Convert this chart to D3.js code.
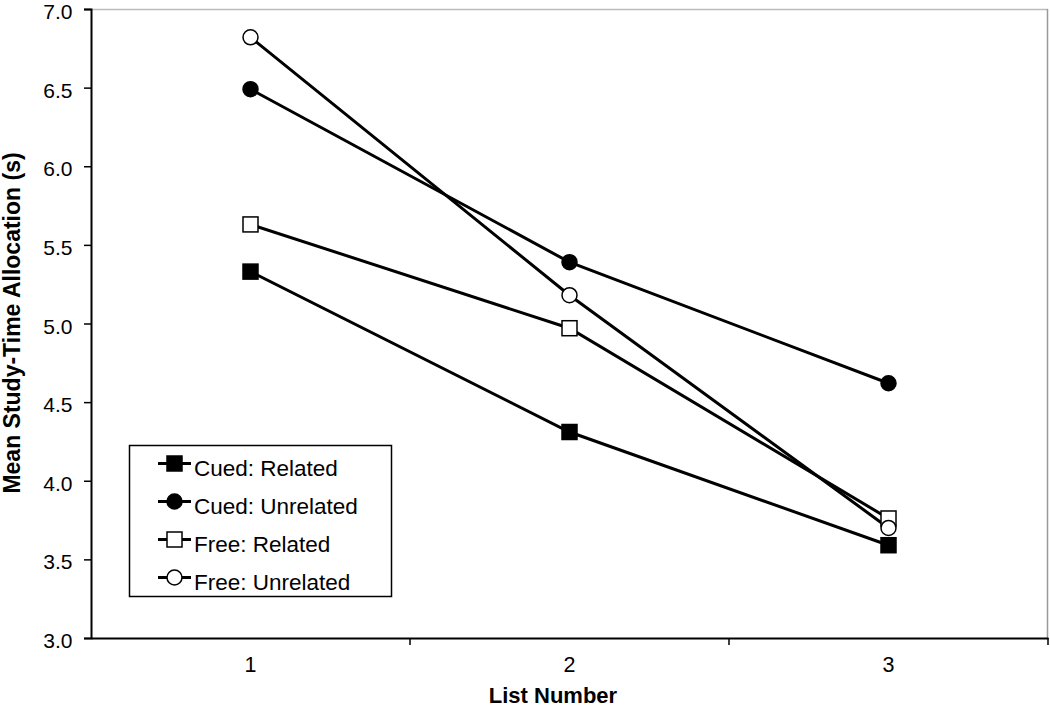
<!DOCTYPE html>
<html><head><meta charset="utf-8">
<script src="https://cdn.jsdelivr.net/npm/d3@7"></script>
<style>body{margin:0;background:#fff;}svg{display:block;font-family:"Liberation Sans",Arial,sans-serif;}</style>
</head><body>
<svg id="c" width="1050" height="707"></svg>
<script>
const categories = ["1","2","3"];
const yTicks = [3.0,3.5,4.0,4.5,5.0,5.5,6.0,6.5,7.0];
const seriesNames = ["Cued: Related","Cued: Unrelated","Free: Related","Free: Unrelated"];
const cuedRelated = [5.33,4.31,3.59];
const cuedUnrelated = [6.49,5.39,4.62];
const freeRelated = [5.63,4.97,3.76];
const freeUnrelated = [6.82,5.18,3.70];
const markerShapes = ["square","circle","square","circle"];
const markerFilled = [true,true,false,false];

const series = seriesNames.map((n,i)=>({name:n, values:[cuedRelated,cuedUnrelated,freeRelated,freeUnrelated][i], shape:markerShapes[i], filled:markerFilled[i]}));

const svg = d3.select("#c");
const FF = "Liberation Sans, Arial, sans-serif";
const L=91, R=1048, T=9, B=638;
const x = d3.scaleBand().domain(categories).range([L,R]);
const y = d3.scaleLinear().domain([3,7]).range([B,T]);

// plot border (light gray top/right)
svg.append("line").attr("x1",L).attr("x2",R).attr("y1",T+0.5).attr("y2",T+0.5).attr("stroke","#bbb").attr("stroke-width",1.5);
svg.append("line").attr("x1",R-0.5).attr("x2",R-0.5).attr("y1",T).attr("y2",B).attr("stroke","#999").attr("stroke-width",1.5);

// y axis
const ya = svg.append("g").attr("transform",`translate(${L},0)`)
  .call(d3.axisLeft(y).tickValues(yTicks).tickFormat(d3.format(".1f")).tickSize(7).tickPadding(11.5));
ya.select(".domain").attr("stroke","#000").attr("stroke-width",2);
ya.selectAll(".tick line").attr("stroke","#000").attr("stroke-width",1.5);
ya.selectAll("text").attr("font-size",21).attr("fill","#000").attr("font-family",FF).attr("dy","9.5px");

// x axis with ticks at band boundaries
const xa = svg.append("g").attr("transform",`translate(0,${B})`)
  .call(d3.axisBottom(x).tickSize(0).tickPadding(0));
xa.select(".domain").attr("stroke","#000").attr("stroke-width",2);
xa.selectAll("text").attr("font-size",21.5).attr("fill","#000").attr("font-family",FF).attr("y",34).attr("dy",0);
const bounds = categories.slice(1).map(c=>x(c)).concat([R]);
svg.append("g").selectAll("line").data(bounds).join("line")
  .attr("x1",d=>d).attr("x2",d=>d).attr("y1",B).attr("y2",B+7).attr("stroke","#000").attr("stroke-width",1.5);

const cx = c => x(c)+x.bandwidth()/2;

// lines
const line = d3.line().x((d,i)=>cx(categories[i])).y(d=>y(d));
svg.append("g").selectAll("path").data(series).join("path")
  .attr("d",d=>line(d.values)).attr("fill","none").attr("stroke","#000").attr("stroke-width",3);

function drawMarker(g, shape, filled, px, py){
  if(shape==="square"){
    g.append("rect").attr("x",px-7.5).attr("y",py-7.5).attr("width",15).attr("height",15)
      .attr("fill",filled?"#000":"#fff").attr("stroke","#000").attr("stroke-width",1.5);
  } else {
    g.append("circle").attr("cx",px).attr("cy",py).attr("r",7.5)
      .attr("fill",filled?"#000":"#fff").attr("stroke","#000").attr("stroke-width",1.5);
  }
}
const mg = svg.append("g");
series.forEach(s=>{
  s.values.forEach((v,i)=>drawMarker(mg,s.shape,s.filled,cx(categories[i]),y(v)));
});

// legend
const lg = svg.append("g");
lg.append("rect").attr("x",129.5).attr("y",445.5).attr("width",262).attr("height",151).attr("fill","#fff").attr("stroke","#000").attr("stroke-width",1.5);
series.forEach((s,i)=>{
  const ry = 463.5 + i*38;
  lg.append("line").attr("x1",158).attr("x2",191).attr("y1",ry).attr("y2",ry).attr("stroke","#000").attr("stroke-width",3);
  drawMarker(lg,s.shape,s.filled,174.5,ry);
  lg.append("text").attr("x",194).attr("y",ry+12.5).attr("font-size",22.5).attr("font-family",FF).text(s.name);
});

// axis titles
svg.append("text").attr("x",553).attr("y",703).attr("text-anchor","middle").attr("font-size",22).attr("font-weight","bold").attr("font-family",FF).text("List Number");
svg.append("text").attr("transform","translate(20,323) rotate(-90)").attr("text-anchor","middle").attr("font-size",23).attr("font-weight","bold").attr("font-family",FF).text("Mean Study-Time Allocation (s)");
</script>
</body></html>
